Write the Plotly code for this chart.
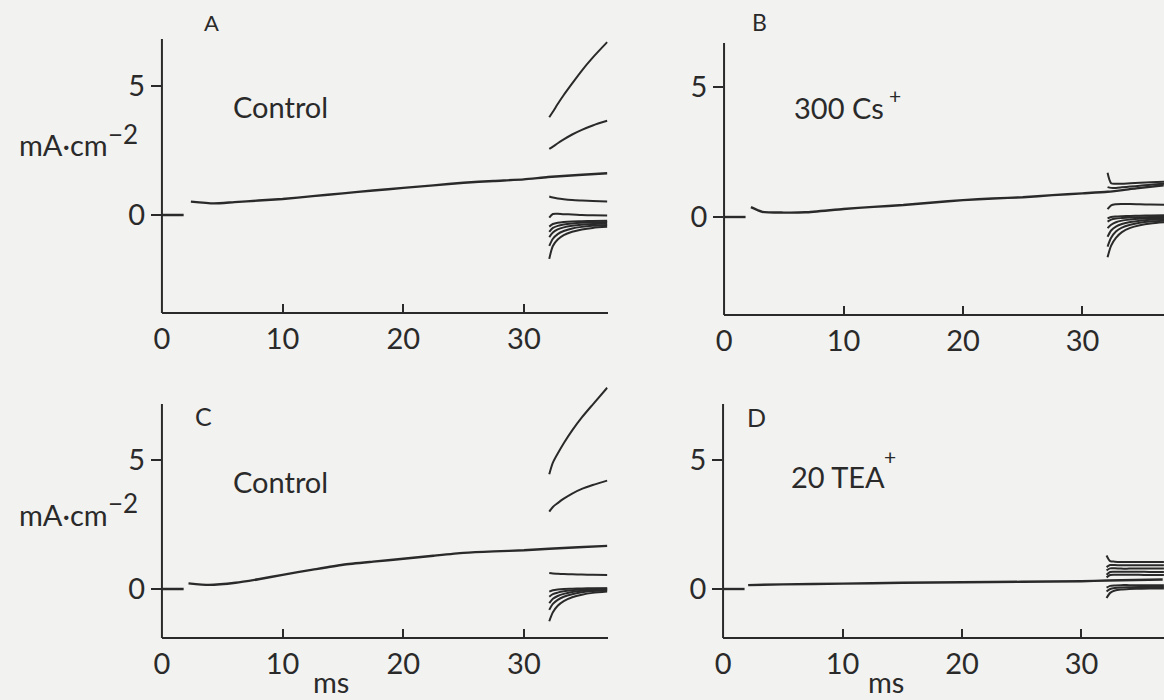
import plotly.graph_objects as go

# ---------------- data ----------------
# baseline before the step (ms, mA/cm2)
base_t = [0.0, 1.8]
base_i = [0.0, 0.0]

# main traces during the step
A_t = [2.4, 4.3, 6.0, 8.0, 10.0, 12.5, 15.0, 17.5, 20.0, 22.5, 25.0, 27.5, 30.0, 32.0, 34.5, 36.9]
A_i = [0.52, 0.45, 0.50, 0.56, 0.62, 0.73, 0.84, 0.95, 1.05, 1.15, 1.25, 1.32, 1.38, 1.47, 1.55, 1.62]

B_t = [2.25, 3.2, 5.0, 6.8, 10.0, 12.5, 15.0, 17.5, 20.0, 22.5, 25.0, 27.5, 30.0, 32.1, 34.5, 36.8]
B_i = [0.38, 0.20, 0.17, 0.18, 0.31, 0.39, 0.46, 0.56, 0.65, 0.71, 0.76, 0.84, 0.91, 0.97, 1.10, 1.22]

C_t = [2.2, 3.9, 6.1, 8.0, 10.0, 12.5, 15.0, 17.5, 20.0, 22.5, 25.0, 27.5, 30.0, 32.1, 34.5, 36.9]
C_i = [0.22, 0.16, 0.24, 0.38, 0.55, 0.75, 0.94, 1.06, 1.17, 1.29, 1.40, 1.46, 1.50, 1.56, 1.62, 1.67]

D_t = [2.1, 5.0, 10.0, 15.0, 20.0, 25.0, 30.0, 32.2, 34.5, 36.8]
D_i = [0.15, 0.18, 0.21, 0.24, 0.26, 0.28, 0.30, 0.33, 0.35, 0.37]

# tail currents after repolarisation
tail_t = [32.1, 32.4, 32.8, 33.3, 34.0, 34.8, 35.7, 36.9]

A_tails = [
    [3.79, 4.00, 4.30, 4.65, 5.10, 5.60, 6.10, 6.70],
    [2.56, 2.65, 2.78, 2.93, 3.12, 3.30, 3.47, 3.65],
    [0.72, 0.68, 0.64, 0.61, 0.58, 0.56, 0.54, 0.52],
    [-0.10, 0.04, 0.05, 0.03, 0.02, 0.00, -0.01, -0.02],
    [-0.45, -0.35, -0.30, -0.27, -0.25, -0.24, -0.23, -0.22],
    [-0.65, -0.50, -0.42, -0.37, -0.33, -0.30, -0.28, -0.27],
    [-0.86, -0.68, -0.56, -0.48, -0.42, -0.38, -0.35, -0.33],
    [-1.20, -0.92, -0.74, -0.62, -0.52, -0.46, -0.42, -0.39],
    [-1.70, -1.20, -0.95, -0.78, -0.65, -0.56, -0.50, -0.46],
]

B_tails = [
    [1.70, 1.30, 1.28, 1.28, 1.30, 1.32, 1.34, 1.36],
    [1.15, 1.12, 1.12, 1.14, 1.17, 1.20, 1.24, 1.28],
    [0.30, 0.45, 0.49, 0.50, 0.50, 0.49, 0.48, 0.47],
    [-0.05, 0.00, 0.02, 0.03, 0.04, 0.05, 0.06, 0.07],
    [-0.18, -0.10, -0.06, -0.04, -0.02, -0.01, 0.00, 0.00],
    [-0.43, -0.30, -0.20, -0.14, -0.10, -0.07, -0.05, -0.04],
    [-0.76, -0.52, -0.37, -0.27, -0.19, -0.14, -0.11, -0.09],
    [-1.14, -0.80, -0.56, -0.41, -0.30, -0.22, -0.17, -0.14],
    [-1.55, -1.10, -0.80, -0.58, -0.42, -0.32, -0.25, -0.20],
]

C_tails = [
    [4.45, 4.90, 5.25, 5.65, 6.15, 6.65, 7.15, 7.80],
    [3.00, 3.18, 3.33, 3.50, 3.70, 3.88, 4.03, 4.20],
    [0.62, 0.60, 0.59, 0.58, 0.57, 0.56, 0.55, 0.54],
    [-0.10, -0.05, -0.02, 0.00, 0.01, 0.02, 0.03, 0.03],
    [-0.30, -0.20, -0.14, -0.09, -0.05, -0.02, 0.00, 0.02],
    [-0.55, -0.38, -0.27, -0.19, -0.12, -0.07, -0.04, -0.02],
    [-0.81, -0.58, -0.42, -0.30, -0.20, -0.13, -0.08, -0.05],
    [-1.25, -0.90, -0.65, -0.47, -0.32, -0.22, -0.15, -0.10],
]

D_tails = [
    [1.30, 1.08, 1.06, 1.05, 1.05, 1.05, 1.05, 1.05],
    [0.85, 0.93, 0.93, 0.92, 0.92, 0.92, 0.92, 0.92],
    [0.72, 0.80, 0.80, 0.79, 0.79, 0.79, 0.79, 0.79],
    [0.55, 0.66, 0.67, 0.67, 0.67, 0.67, 0.66, 0.66],
    [0.45, 0.54, 0.55, 0.55, 0.55, 0.55, 0.54, 0.54],
    [0.05, 0.12, 0.14, 0.15, 0.15, 0.15, 0.15, 0.15],
    [-0.10, 0.00, 0.04, 0.06, 0.07, 0.08, 0.08, 0.08],
    [-0.35, -0.15, -0.06, -0.02, 0.00, 0.01, 0.02, 0.02],
]

x_ticks = [0, 10, 20, 30]
x_tick_text = ["0", "10", "20", "30"]
y_ticks = [0, 5]
y_tick_text = ["0", "5"]

panel_letters = ["A", "B", "C", "D"]
panel_labels = ["Control", "300 Cs", "Control", "20 TEA"]
panel_sup = ["", "+", "", "+"]
y_unit = "mA·cm"
y_unit_sup = "−2"
x_unit = "ms"

# ---------------- layout (pixel geometry of the figure) ----------------
W, H = 1164, 700
INK = "#2a2a2a"
FONT = "Lato"

# x0px, px per ms, right px, y0px (value 0), px per unit, x-axis px, y-axis top px, domain top px
geo = [
    dict(x0=155, xs=12.15, xe=604, y0=215, ys=25.8, xa=312, yt=39, dt=4),
    dict(x0=721, xs=12.03, xe=1164, y0=217, ys=26.0, xa=314, yt=43, dt=4),
    dict(x0=155, xs=12.15, xe=604, y0=589, ys=25.8, xa=637, yt=404, dt=372),
    dict(x0=720, xs=12.03, xe=1164, y0=589, ys=25.8, xa=637, yt=404, dt=372),
]

mains = [(A_t, A_i), (B_t, B_i), (C_t, C_i), (D_t, D_i)]
tails = [A_tails, B_tails, C_tails, D_tails]

fig = go.Figure()
layout = dict(
    width=W, height=H,
    margin=dict(l=0, r=0, t=0, b=0),
    paper_bgcolor="#f2f2f0",
    plot_bgcolor="rgba(0,0,0,0)",
    showlegend=False,
    font=dict(family=FONT, color=INK),
)
shapes = []
annotations = []

for k, g in enumerate(geo):
    n = "" if k == 0 else str(k + 1)
    xa, ya = "x" + n, "y" + n
    line = dict(color=INK, width=2.4, shape="spline", smoothing=0.6)
    fig.add_trace(go.Scatter(x=base_t, y=base_i, mode="lines", line=line,
                             xaxis=xa, yaxis=ya, hoverinfo="skip"))
    mt, mi = mains[k]
    fig.add_trace(go.Scatter(x=mt, y=mi, mode="lines", line=line,
                             xaxis=xa, yaxis=ya, hoverinfo="skip"))
    for tr in tails[k]:
        fig.add_trace(go.Scatter(x=tail_t, y=tr, mode="lines",
                                 line=dict(color=INK, width=2.0, shape="spline", smoothing=0.8),
                                 xaxis=xa, yaxis=ya, hoverinfo="skip"))
    layout["xaxis" + n] = dict(
        domain=[g["x0"] / W, g["xe"] / W],
        range=[0, (g["xe"] - g["x0"]) / g["xs"]],
        anchor=ya, showline=True, linecolor=INK, linewidth=2,
        showgrid=False, zeroline=False,
        ticks="inside", ticklen=8, tickwidth=2, tickcolor=INK,
        tickvals=x_ticks, ticktext=x_tick_text,
        tickfont=dict(size=29, family=FONT, color=INK),
        ticklabelstandoff=0,
    )
    layout["yaxis" + n] = dict(
        domain=[1 - g["xa"] / H, 1 - g["dt"] / H],
        range=[(g["y0"] - g["xa"]) / g["ys"], (g["y0"] - g["dt"]) / g["ys"]],
        anchor=xa, showline=False, showgrid=False, zeroline=False,
        ticks="outside", ticklen=10, tickwidth=2, tickcolor=INK,
        tickvals=y_ticks, ticktext=y_tick_text,
        tickfont=dict(size=29, family=FONT, color=INK),
        ticklabelstandoff=0,
    )
    shapes.append(dict(type="line", xref="paper", yref="paper",
                       x0=g["x0"] / W, x1=g["x0"] / W,
                       y0=1 - (g["xa"] + 1) / H, y1=1 - g["yt"] / H,
                       line=dict(color=INK, width=2)))

def ann(text, px, py, size, xanchor="center"):
    annotations.append(dict(text=text, x=px / W, y=1 - py / H, xref="paper", yref="paper",
                            showarrow=False, xanchor=xanchor, yanchor="middle", borderpad=0,
                            font=dict(size=size, family=FONT, color=INK)))

# panel letters
ann(panel_letters[0], 205, 23, 22)
ann(panel_letters[1], 757, 22, 23)
ann(panel_letters[2], 197, 416, 25)
ann(panel_letters[3], 754, 417, 25)
# condition labels
ann(panel_labels[0], 226, 107, 29, "left")
ann(panel_labels[1], 790, 108, 29, "left")
ann(panel_sup[1], 886, 96, 21, "left")
ann(panel_labels[2], 226, 481, 29, "left")
ann(panel_labels[3], 787, 476, 29, "left")
ann(panel_sup[3], 881, 456, 21, "left")
# y units
ann(y_unit, 10, 144, 29, "left")
ann(y_unit_sup, 100, 134, 26, "left")
ann(y_unit, 10, 514, 29, "left")
ann(y_unit_sup, 100, 503, 26, "left")
# x units
ann(x_unit, 325, 681, 29)
ann(x_unit, 884, 681, 29)

layout["shapes"] = shapes
layout["annotations"] = annotations
fig.update_layout(**layout)
fig.write_html("out.html",
               config={"displayModeBar": False, "staticPlot": True},
               post_script="document.body.style.margin='0px';document.body.style.padding='0px';document.body.style.overflow='hidden';")
